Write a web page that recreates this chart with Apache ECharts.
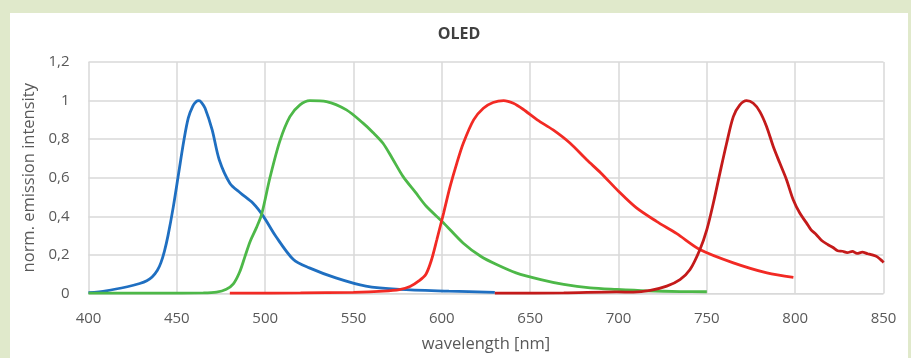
<!DOCTYPE html>
<html>
<head>
<meta charset="utf-8">
<script src="https://cdn.jsdelivr.net/npm/echarts@6/dist/echarts.min.js"></script>
<style>
html,body{margin:0;padding:0;background:#e0e9cb;width:911px;height:358px;overflow:hidden}
#oled{position:absolute;left:10px;top:13px;width:898px;height:345px;background:#fff}
</style>
</head>
<body>
<div id="oled"></div>
<script>
//x轴刻度
var xTicks=[400,450,500,550,600,650,700,750,800,850]
var yTicks=[0,0.2,0.4,0.6,0.8,1,1.2]

//蓝色
var blueX=[400,410,422,429,433,436,439,441,443,445,448,451,454,456.5,459,461,462.5,464,466,470,474,480,486,493,499,506,516,525,540,557,576,604,630]
var blueY=[0.004,0.014,0.035,0.052,0.066,0.085,0.12,0.16,0.22,0.3,0.449,0.622,0.794,0.91,0.97,0.995,1,0.99,0.96,0.848,0.693,0.572,0.521,0.469,0.4,0.297,0.176,0.133,0.081,0.038,0.021,0.012,0.006]

//绿色
var greenX=[400,440,465,472.5,478,482,485.5,488.5,491.5,495,498,502.7,508.3,514,519.7,525.3,534.7,546,555.4,561,566.7,572,578,585,591.2,601,612,622,631,642,656,669,684,699,716,735,750]
var greenY=[0.002,0.002,0.003,0.007,0.022,0.05,0.11,0.19,0.27,0.34,0.41,0.6,0.79,0.917,0.978,1,0.995,0.952,0.883,0.835,0.779,0.7,0.607,0.525,0.452,0.366,0.262,0.193,0.15,0.107,0.072,0.047,0.029,0.021,0.014,0.01,0.009]

//红色
var redX=[480,520,550,567,576,582,587,591,594,597.2,601,604.7,608.5,612.2,618,623.5,629,635,640.5,646,654,663,672.5,682,690,700,710,721.5,733,746,765,784,799]
var redY=[0.002,0.003,0.006,0.012,0.02,0.036,0.065,0.1,0.17,0.28,0.417,0.555,0.676,0.78,0.9,0.96,0.99,1,0.986,0.955,0.9,0.848,0.78,0.693,0.625,0.53,0.445,0.374,0.31,0.228,0.159,0.107,0.084]

//暗红
var darkX=[630,669,699,708.5,718,727.3,734.8,740.5,746.1,750,753.7,757.4,761.2,765,768.7,772.5,776.3,780,783.8,787.6,791.3,795.1,798.9,802.6,806.4,809,812,815,818.6,821.2,824,826.8,829.5,832.4,835,838,841,843.6,846.5,849.3,850]
var darkY=[0.002,0.003,0.008,0.007,0.016,0.038,0.072,0.124,0.228,0.331,0.469,0.624,0.779,0.917,0.978,1,0.986,0.943,0.866,0.762,0.676,0.59,0.486,0.417,0.366,0.33,0.305,0.275,0.253,0.24,0.222,0.219,0.212,0.218,0.208,0.214,0.206,0.2,0.19,0.168,0.16]

function pairs(xs,ys){
	var out=[];
	for(var i=0;i<xs.length;i++){
		out.push([xs[i],ys[i]]);
	}
	return out;
}

function line(name,xs,ys,color){
	return {
		name:name,
		type:'line',
		data:pairs(xs,ys),
		smooth:0.3,
		showSymbol:false,
		lineStyle:{color:color,width:2.8},
		itemStyle:{color:color}
	}
}

var chart=echarts.init(document.getElementById('oled'));
var option={
	animation:false,
	title:{
		text:'OLED',
		left:'center',
		top:8,
		textStyle:{fontFamily:'Open Sans',fontSize:16,fontWeight:'bold',color:'#404040'}
	},
	grid:{left:78.5,right:24.5,top:49,bottom:64.5},
	xAxis:{
		type:'value',
		min:xTicks[0],
		max:xTicks[xTicks.length-1],
		interval:50,
		name:'wavelength [nm]',
		nameLocation:'middle',
		nameGap:42,
		nameTextStyle:{fontFamily:'Open Sans',fontSize:16.5,color:'#595959'},
		axisLine:{show:true,lineStyle:{color:'#d9d9d9',width:1}},
		axisTick:{show:false},
		axisLabel:{fontFamily:'Open Sans',fontSize:15,color:'#595959',margin:18},
		splitLine:{show:true,lineStyle:{color:'#d9d9d9',width:1.5}}
	},
	yAxis:{
		type:'value',
		min:yTicks[0],
		max:yTicks[yTicks.length-1],
		interval:0.2,
		name:'norm. emission intensity',
		nameLocation:'middle',
		nameGap:38.5,
		nameTextStyle:{fontFamily:'Open Sans',fontSize:16.5,color:'#595959'},
		axisLine:{show:false},
		axisTick:{show:false},
		axisLabel:{
			fontFamily:'Open Sans',fontSize:15,color:'#595959',margin:19,
			formatter:function(v){return String(Math.round(v*10)/10).replace('.',',')}
		},
		splitLine:{show:true,lineStyle:{color:'#d9d9d9',width:1.5}}
	},
	series:[
		line('blue',blueX,blueY,'#1f6fc1'),
		line('green',greenX,greenY,'#4db848'),
		line('red',redX,redY,'#f22a24'),
		line('darkred',darkX,darkY,'#c41a1a')
	]
};
chart.setOption(option,true);
</script>
</body>
</html>
